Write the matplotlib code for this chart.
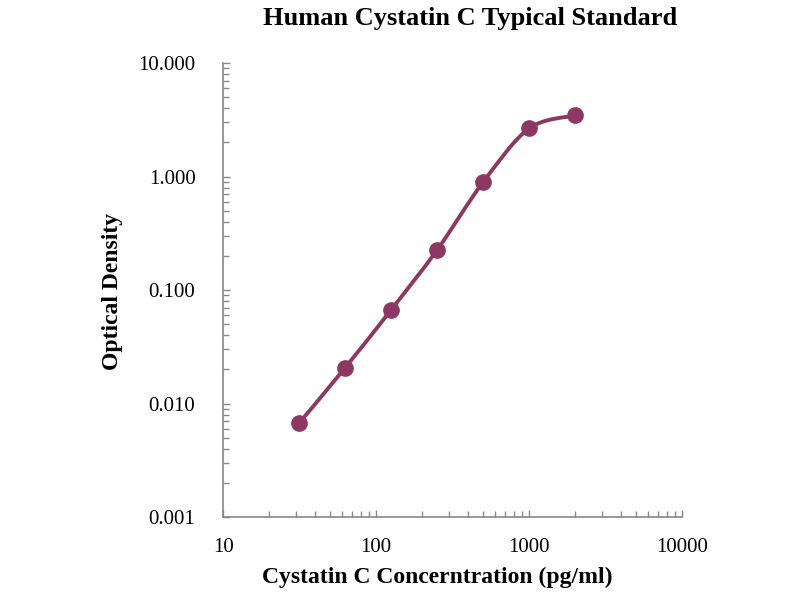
import numpy as np
import matplotlib
matplotlib.use("Agg")
import matplotlib.pyplot as plt
from matplotlib.path import Path
from matplotlib.patches import PathPatch
from matplotlib.ticker import LogLocator, FixedFormatter, FixedLocator, NullFormatter

plt.rcParams['font.family'] = ['Liberation Serif', 'DejaVu Serif']

# standard curve values
conc = [31.25, 62.5, 125, 250, 500, 1000, 2000]
od = [0.0067, 0.0206, 0.0667, 0.225, 0.89, 2.65, 3.45]

x_ticks = [10, 100, 1000, 10000]
x_labels = ["10", "100", "1000", "10000"]
y_ticks = [0.001, 0.01, 0.1, 1, 10]
y_labels = ["0.001", "0.010", "0.100", "1.000", "10.000"]

col = "#8c3862"

fig = plt.figure(figsize=(8, 6), dpi=100)
ax = fig.add_axes([0.279, 0.138, 0.5735, 0.757])
ax.set_xscale("log")
ax.set_yscale("log")
ax.set_xlim(10, 10000)
ax.set_ylim(0.001, 10)

# smoothed line (Catmull-Rom style bezier through the points, in log space)
lx = np.log10(conc)
ly = np.log10(od)
verts = [(conc[0], od[0])]
codes = [Path.MOVETO]
n = len(lx)
for i in range(n - 1):
    p0 = (lx[max(i - 1, 0)], ly[max(i - 1, 0)])
    p1 = (lx[i], ly[i])
    p2 = (lx[i + 1], ly[i + 1])
    p3 = (lx[min(i + 2, n - 1)], ly[min(i + 2, n - 1)])
    t = 1 / 6
    c1 = (p1[0] + (p2[0] - p0[0]) * t, p1[1] + (p2[1] - p0[1]) * t)
    c2 = (p2[0] - (p3[0] - p1[0]) * t, p2[1] - (p3[1] - p1[1]) * t)
    for c in (c1, c2, p2):
        verts.append((10 ** c[0], 10 ** c[1]))
        codes.append(Path.CURVE4)
ax.add_patch(PathPatch(Path(verts, codes), fill=False, edgecolor=col, lw=2.8,
                       capstyle="round", zorder=2))
ax.plot(conc, od, "o", color=col, markersize=11, zorder=3)

for s in ("top", "right"):
    ax.spines[s].set_visible(False)
for s in ("left", "bottom"):
    ax.spines[s].set_color("#888888")
    ax.spines[s].set_linewidth(1.2)

ax.xaxis.set_major_locator(FixedLocator(x_ticks))
ax.xaxis.set_major_formatter(FixedFormatter(x_labels))
ax.yaxis.set_major_locator(FixedLocator(y_ticks))
ax.yaxis.set_major_formatter(FixedFormatter(y_labels))
ax.xaxis.set_minor_locator(LogLocator(base=10, subs=np.arange(2, 10)))
ax.yaxis.set_minor_locator(LogLocator(base=10, subs=np.arange(2, 10)))
ax.xaxis.set_minor_formatter(NullFormatter())
ax.yaxis.set_minor_formatter(NullFormatter())
ax.tick_params(which="both", direction="in", color="#888888", width=1)
ax.tick_params(which="major", length=5, labelsize=15)
ax.tick_params(which="minor", length=4)
ax.tick_params(axis="x", which="major", pad=15)
ax.tick_params(axis="y", which="major", pad=20)

fig.text(0.546, 0.037, "Cystatin C Concerntration (pg/ml)", ha="center", va="center",
         fontsize=17, fontweight="bold")
fig.text(0.141, 0.515, "Optical Density", ha="center", va="center", rotation=90,
         fontsize=17, fontweight="bold")
fig.text(0.5875, 0.97, "Human Cystatin C Typical Standard", ha="center", va="center",
         fontsize=19, fontweight="bold")

fig.savefig("out.png", dpi=100)
